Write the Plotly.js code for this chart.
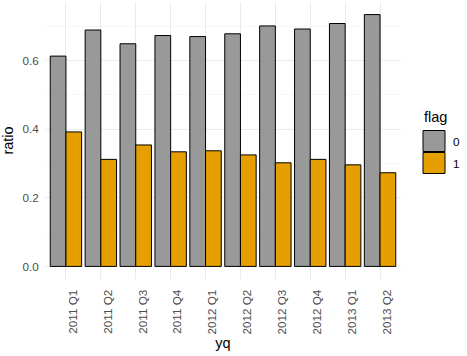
<!DOCTYPE html>
<html>
<head>
<meta charset="utf-8">
<script src="https://cdn.plot.ly/plotly-3.0.1.min.js"></script>
<style>html,body{margin:0;padding:0;background:#fff;}#chart{width:467px;height:356px;}</style>
</head>
<body>
<div id="chart"></div>
<script>
const categories = ["2011 Q1","2011 Q2","2011 Q3","2011 Q4","2012 Q1","2012 Q2","2012 Q3","2012 Q4","2013 Q1","2013 Q2"];
const flag0 = [0.613, 0.689, 0.649, 0.673, 0.670, 0.678, 0.701, 0.692, 0.708, 0.734];
const flag1 = [0.392, 0.312, 0.354, 0.334, 0.337, 0.325, 0.302, 0.312, 0.296, 0.273];
const seriesNames = ["0", "1"];
const seriesColors = ["#999999", "#E69F00"];

const W = 467, H = 356;
const M = {l: 45, r: 66, t: 2, b: 77};
const pw = W - M.l - M.r, ph = H - M.t - M.b;
const px = x => (x - M.l) / pw;
const py = y => 1 - (y - M.t) / ph;

const font = "Liberation Sans, Arial, sans-serif";
const traces = [flag0, flag1].map((vals, i) => ({
  type: "bar",
  x: categories,
  y: vals,
  name: seriesNames[i],
  marker: {color: seriesColors[i], line: {color: "#000000", width: 1}},
  showlegend: false,
  hoverinfo: "x+y"
}));

const shapes = [];
const annotations = [
  {xref: "paper", yref: "paper", x: px(422), y: py(117), xanchor: "left", yanchor: "middle",
   text: "flag", showarrow: false, font: {family: font, size: 14.5, color: "#000"}}
];
seriesNames.forEach((n, i) => {
  const top = 130.5 + i * 22;
  shapes.push({type: "rect", xref: "paper", yref: "paper",
    x0: px(423), x1: px(445), y0: py(top), y1: py(top + 21),
    fillcolor: seriesColors[i], line: {color: "#000", width: 1}});
  annotations.push({xref: "paper", yref: "paper", x: px(451), y: py(top + 11), xanchor: "left", yanchor: "middle",
    text: n, showarrow: false, font: {family: font, size: 11.7, color: "#000"}});
});

const layout = {
  width: W, height: H,
  margin: M,
  paper_bgcolor: "#fff", plot_bgcolor: "#fff",
  font: {family: font},
  barmode: "group", bargap: 0.1, bargroupgap: 0,
  showlegend: false,
  xaxis: {
    type: "category", range: [-0.6, 9.6],
    showgrid: true, gridcolor: "#ebebeb", gridwidth: 1,
    zeroline: false, showline: false,
    tickangle: -90, ticks: "outside", ticklen: 5, tickcolor: "rgba(0,0,0,0)",
    ticklabelshift: 7,
    tickfont: {family: font, size: 11.7, color: "#4d4d4d"},
    title: {text: "yq", font: {family: font, size: 14.5, color: "#000"}, standoff: 4},
    automargin: false
  },
  yaxis: {
    range: [-0.0367, 0.7707],
    tickvals: [0, 0.2, 0.4, 0.6], ticktext: ["0.0","0.2","0.4","0.6"],
    showgrid: true, gridcolor: "#ebebeb", gridwidth: 1,
    minor: {tickvals: [0.1, 0.3, 0.5, 0.7], showgrid: true, gridcolor: "#f2f2f2", gridwidth: 0.6, ticks: ""},
    zeroline: false, showline: false,
    ticks: "outside", ticklen: 3, tickcolor: "rgba(0,0,0,0)",
    tickfont: {family: font, size: 11.7, color: "#4d4d4d"},
    title: {text: "ratio", font: {family: font, size: 14.5, color: "#000"}, standoff: 6},
    automargin: false
  },
  shapes: shapes,
  annotations: annotations
};

Plotly.newPlot("chart", traces, layout, {displayModeBar: false, staticPlot: true});
</script>
</body>
</html>
